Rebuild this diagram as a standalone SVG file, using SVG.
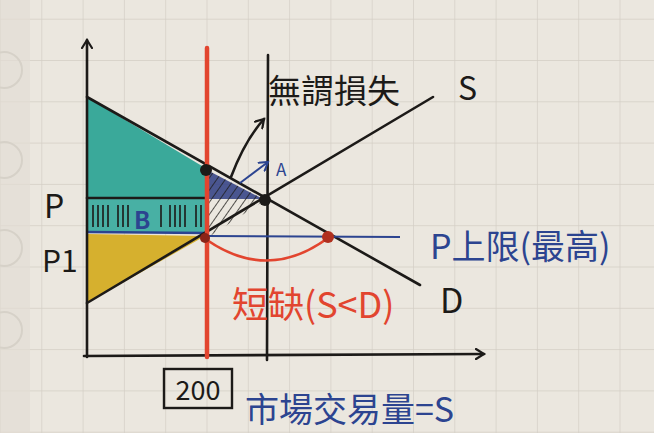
<svg xmlns="http://www.w3.org/2000/svg" width="654" height="433" viewBox="0 0 654 433">
<style>
.ink{stroke:#1c1a18;stroke-width:2.6;fill:none;stroke-linecap:round;stroke-linejoin:round}
.t{font-family:"Noto Sans CJK TC","Noto Sans CJK SC",sans-serif}
.blue{fill:#2c4490}
.red{fill:#e2452f}
.blk{fill:#1c1a18}
</style>
<defs>
<pattern id="grid" patternUnits="userSpaceOnUse" x="0" y="18.7" width="41.3" height="41.3">
<path d="M0,0 H41.3 M0,0 V41.3" stroke="#d3cec5" stroke-width="1.4" fill="none"/>
</pattern>
<pattern id="hatch" patternUnits="userSpaceOnUse" width="7" height="7" patternTransform="rotate(35)">
<line x1="0" y1="0" x2="0" y2="7" stroke="#1c1a18" stroke-width="1.5"/>
</pattern>
<marker id="arr" markerWidth="12" markerHeight="12" refX="9" refY="6" orient="auto" markerUnits="userSpaceOnUse">
<path d="M1,1 L9,6 L1,11" fill="none" stroke="#1c1a18" stroke-width="2.2" stroke-linecap="round"/>
</marker>
<marker id="arrB" markerWidth="12" markerHeight="12" refX="9" refY="6" orient="auto" markerUnits="userSpaceOnUse">
<path d="M1,1 L9,6 L1,11" fill="none" stroke="#2c4490" stroke-width="2" stroke-linecap="round"/>
</marker>
<clipPath id="dwl"><polygon points="207,170 265,200 207,238"/></clipPath>
</defs>

<g id="paper">
<rect width="654" height="433" fill="#ebe7df"/>
<rect width="654" height="433" fill="url(#grid)"/>
<rect width="30" height="433" fill="#e2ddd4" opacity="0.7"/>
<circle cx="4" cy="70" r="18" fill="none" stroke="#d6d1c8" stroke-width="2"/>
<circle cx="4" cy="160" r="18" fill="none" stroke="#d6d1c8" stroke-width="2"/>
<circle cx="4" cy="248" r="18" fill="none" stroke="#d6d1c8" stroke-width="2"/>
<circle cx="4" cy="330" r="18" fill="none" stroke="#d6d1c8" stroke-width="2"/>
</g>

<g id="consumer-surplus">
<polygon points="87,97 207,169 207,198 87,198" fill="#3aa99a"/>
</g>
<g id="area-B">
<rect x="87" y="198" width="120" height="34" fill="#48b0a4"/>
<path d="M93,205 V227 M98,205 V227 M103,205 V227 M108,205 V227 M118,205 V227 M123,205 V227 M128,205 V227 M161,205 V227 M170,205 V227 M175,205 V227 M180,205 V227 M185,205 V227 M196,205 V227 M201,205 V227" stroke="#1c1a18" stroke-width="1.6"/>
<text class="t blue" x="134" y="229" font-size="24" font-weight="bold">B</text>
<line x1="87" y1="198" x2="207" y2="198" class="ink"/>
<line x1="87" y1="232" x2="207" y2="233" stroke="#2c4490" stroke-width="2.4"/>
</g>
<g id="producer-surplus">
<polygon points="87,234 205,236 87,303" fill="#d6b02e"/>
</g>
<g id="deadweight-loss">
<polygon points="207,170 263,199 207,199" fill="#2e3c82" opacity="0.85"/>
<rect x="200" y="160" width="70" height="85" fill="url(#hatch)" clip-path="url(#dwl)"/>
</g>

<g id="axes">
<line x1="87" y1="357" x2="87" y2="40" class="ink" marker-end="url(#arr)"/>
<line x1="84" y1="356" x2="484" y2="354" class="ink" marker-end="url(#arr)"/>
</g>

<g id="connectors">
<line x1="87" y1="97" x2="420" y2="285" class="ink"/>
<line x1="87" y1="303" x2="433" y2="97" class="ink"/>
<line x1="207" y1="48" x2="207" y2="357" stroke="#e2452f" stroke-width="4.5" stroke-linecap="round"/>
<line x1="268" y1="55" x2="267" y2="360" class="ink"/>
<line x1="207" y1="236" x2="400" y2="237" stroke="#2c4490" stroke-width="2"/>
<path d="M207,240 Q268,282 328,238" fill="none" stroke="#e2452f" stroke-width="2.6"/>
<path d="M231,177 Q245,140 264,119" class="ink" stroke-width="2" marker-end="url(#arr)"/>
<line x1="240" y1="183" x2="268" y2="162" stroke="#2c4490" stroke-width="2" marker-end="url(#arrB)"/>
<circle cx="206" cy="170" r="6" fill="#1c1a18"/>
<circle cx="265" cy="200" r="6" fill="#1c1a18"/>
<circle cx="205" cy="238" r="5" fill="#8a2418"/>
<circle cx="328" cy="237" r="6" fill="#b0301f"/>
</g>

<g id="labels">
<text class="t blk" x="268" y="103" font-size="33">無謂損失</text>
<text class="t blk" x="458" y="100" font-size="32">S</text>
<text class="t blue" x="276" y="176" font-size="17">A</text>
<text class="t blue" x="430" y="259" font-size="34">P上限(最高)</text>
<text class="t blk" x="440" y="313" font-size="34">D</text>
<text class="t red" x="232" y="318" font-size="36">短缺(S&lt;D)</text>
<text class="t blk" x="44" y="218" font-size="32">P</text>
<text class="t blk" x="42" y="272" font-size="30">P1</text>
</g>

<g id="quantity">
<rect x="164" y="369" width="68" height="39" fill="none" stroke="#1c1a18" stroke-width="2.4"/>
<text class="t blk" x="198" y="400" font-size="27" text-anchor="middle">200</text>
<text class="t blue" x="245" y="422" font-size="34">市場交易量=S</text>
</g>
</svg>
